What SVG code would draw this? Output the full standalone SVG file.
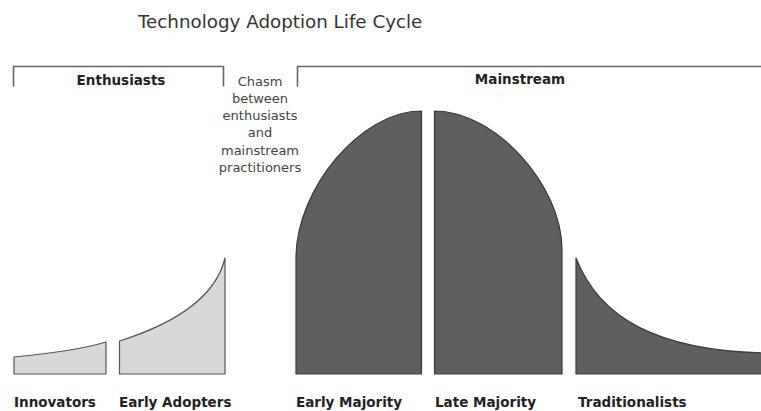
<svg xmlns="http://www.w3.org/2000/svg" width="761" height="411" viewBox="0 0 761 411">
  <style>
    .title { font-family: "DejaVu Sans", Verdana, sans-serif; font-size: 18.3px; fill: #333; }
    .head { font-family: "DejaVu Sans", Verdana, sans-serif; font-size: 13.5px; font-weight: bold; fill: #222; }
    .lbl { font-family: "DejaVu Sans", Verdana, sans-serif; font-size: 13.5px; font-weight: bold; fill: #222; }
    .chasm { font-family: "DejaVu Sans", Verdana, sans-serif; font-size: 13px; fill: #444; text-anchor: middle; }
    .bracket { fill: none; stroke: #666; stroke-width: 1.6; }
    .light { fill: #d8d8d8; stroke: #555; stroke-width: 1.2; stroke-linejoin: round; }
    .dark { fill: #5f5f5f; stroke: #3a3a3a; stroke-width: 1.2; stroke-linejoin: round; }
  </style>
  <rect width="761" height="411" fill="#fff"/>
  <text class="title" x="138" y="27.5">Technology Adoption Life Cycle</text>

  <g id="enthusiasts">
    <path class="bracket" d="M13.5,86.5 V66.5 H223.5 V86.5"/>
    <text class="head" x="121" y="85" text-anchor="middle">Enthusiasts</text>
  </g>

  <g id="mainstream">
    <path class="bracket" d="M297.5,86.5 V66.5 H762"/>
    <text class="head" x="520" y="84" text-anchor="middle">Mainstream</text>
  </g>

  <g id="chasm">
    <text class="chasm" x="260" y="86">Chasm</text>
    <text class="chasm" x="260" y="103">between</text>
    <text class="chasm" x="260" y="120">enthusiasts</text>
    <text class="chasm" x="260" y="137">and</text>
    <text class="chasm" x="260" y="155">mainstream</text>
    <text class="chasm" x="260" y="172">practitioners</text>
  </g>

  <g id="innovators">
    <path class="light" d="M14,374 V357 C45,354 80,350 106,342 V374 Z"/>
    <text class="lbl" x="14" y="407">Innovators</text>
  </g>

  <g id="early-adopters">
    <path class="light" d="M119.5,374 V341 C170,325 215,300 225,258 V374 Z"/>
    <text class="lbl" x="119" y="407">Early Adopters</text>
  </g>

  <g id="early-majority">
    <path class="dark" d="M296,374 V258 C296,190 360,111 421.5,111 V374 Z"/>
    <text class="lbl" x="296" y="407">Early Majority</text>
  </g>

  <g id="late-majority">
    <path class="dark" d="M434.5,374 V111 C495,111 562,185 562,250 V374 Z"/>
    <text class="lbl" x="435" y="407">Late Majority</text>
  </g>

  <g id="traditionalists">
    <path class="dark" d="M576,374 V258 C600,320 660,350 762,353 V374 Z"/>
    <text class="lbl" x="578" y="407">Traditionalists</text>
  </g>

  <g id="connectors"></g>
</svg>
